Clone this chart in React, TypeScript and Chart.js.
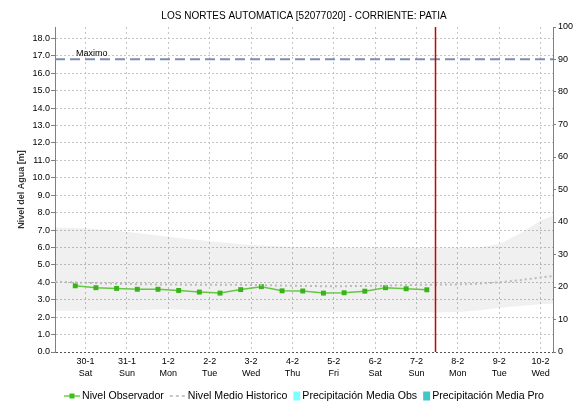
import React, { useEffect, useRef } from "react";
import { Chart, registerables } from "chart.js";

Chart.register(...registerables);

// ---- Data ----
const chartTitle = "LOS NORTES AUTOMATICA [52077020] - CORRIENTE: PATIA";
const dayTicks = [0, 1, 2, 3, 4, 5, 6, 7, 8, 9, 10, 11];
const tickDates = ["30-1", "31-1", "1-2", "2-2", "3-2", "4-2", "5-2", "6-2", "7-2", "8-2", "9-2", "10-2"];
const tickWeekdays = ["Sat", "Sun", "Mon", "Tue", "Wed", "Thu", "Fri", "Sat", "Sun", "Mon", "Tue", "Wed"];
const xMin = -0.74;
const xMax = 11.3;
const levelMax = 18.65;
const precipMax = 100;

const obsDays = [-0.25, 0.25, 0.75, 1.25, 1.75, 2.25, 2.75, 3.25, 3.75, 4.25, 4.75, 5.25, 5.75, 6.25, 6.75, 7.25, 7.75, 8.25];
const obsLevel = [3.8, 3.69, 3.65, 3.6, 3.6, 3.53, 3.44, 3.38, 3.58, 3.75, 3.51, 3.5, 3.38, 3.4, 3.49, 3.69, 3.63, 3.57];

const histDays = [-0.74, 0, 1, 2, 3, 4, 5, 6, 7, 8, 9, 9.5, 10, 10.5, 11, 11.3];
const histLevel = [4.03, 3.97, 3.9, 3.87, 3.86, 3.85, 3.8, 3.77, 3.8, 3.85, 3.88, 3.92, 4.0, 4.12, 4.28, 4.36];

const bandDays = [-0.74, 0, 1, 2, 3, 4, 5, 6, 7, 8, 8.5, 9, 9.5, 10, 10.5, 11, 11.3];
const bandUpper = [7.15, 7.1, 6.9, 6.62, 6.35, 6.14, 6.02, 5.98, 5.98, 5.98, 5.98, 5.98, 6.0, 6.2, 6.8, 7.55, 7.82];
const bandLower = [2.37, 2.36, 2.38, 2.45, 2.38, 2.33, 2.31, 2.31, 2.31, 2.3, 2.27, 2.3, 2.38, 2.54, 2.64, 2.74, 2.77];

const maxLevel = 16.8;
const maxLabel = "Maximo";
const nowDay = 8.45;

const FONT = "'Liberation Sans', Arial, sans-serif";

const legendPlugin = {
  id: "customLegend",
  afterDraw(chart: any) {
    const ctx = chart.ctx;
    const items = chart.data.datasets
      .filter((d: any) => d.legendKind)
      .sort((a: any, b: any) => a.legendOrder - b.legendOrder);
    ctx.save();
    ctx.font = "10.6px " + FONT;
    ctx.textBaseline = "middle";
    const widths = items.map((it: any) => {
      const sym = it.legendKind === "box" ? 7 + 2 : 16 + 2;
      return sym + ctx.measureText(it.label).width;
    });
    const gap = 6;
    const total = widths.reduce((a: number, b: number) => a + b, 0) + gap * (items.length - 1);
    const ca = chart.chartArea;
    let x = (ca.left + ca.right) / 2 - total / 2;
    const y = 396;
    items.forEach((it: any, i: number) => {
      if (it.legendKind === "box") {
        ctx.fillStyle = it.backgroundColor;
        ctx.fillRect(x, y - 4.5, 7, 9);
        ctx.fillStyle = "#000";
        ctx.fillText(it.label, x + 9, y);
      } else {
        ctx.strokeStyle = it.borderColor;
        ctx.lineWidth = it.legendKind === "dash" ? 2 : 1.5;
        ctx.setLineDash(it.legendKind === "dash" ? [3, 3] : []);
        ctx.beginPath();
        ctx.moveTo(x, y);
        ctx.lineTo(x + 16, y);
        ctx.stroke();
        ctx.setLineDash([]);
        if (it.legendKind === "marker") {
          ctx.fillStyle = it.pointBackgroundColor;
          ctx.fillRect(x + 8 - 2.5, y - 2.5, 5, 5);
        }
        ctx.fillStyle = "#000";
        ctx.fillText(it.label, x + 18, y);
      }
      x += widths[i] + gap;
    });
    ctx.restore();
  },
};

const overlayPlugin = {
  id: "overlay",
  afterDatasetsDraw(chart: any) {
    const ctx = chart.ctx;
    const ca = chart.chartArea;
    const xs = chart.scales.x;
    const ys = chart.scales.y;
    ctx.save();
    ctx.font = "9px " + FONT;
    ctx.fillStyle = "#000";
    ctx.textBaseline = "alphabetic";
    ctx.fillText(maxLabel, ca.left + 21, ys.getPixelForValue(maxLevel) - 3);
    const nx = Math.round(xs.getPixelForValue(nowDay)) + 0.5;
    ctx.strokeStyle = "#cc0000";
    ctx.lineWidth = 1.5;
    ctx.beginPath();
    ctx.moveTo(nx, ca.top);
    ctx.lineTo(nx, ca.bottom);
    ctx.stroke();
    ctx.restore();
  },
};

export default function App() {
  const ref = useRef<HTMLCanvasElement>(null);
  useEffect(() => {
    if (!ref.current) return;
    const toPts = (xs: number[], ys: number[]) => xs.map((x, i) => ({ x, y: ys[i] }));
    const chart = new Chart(ref.current, {
      type: "line",
      data: {
        datasets: [
          {
            label: "band-lower",
            data: toPts(bandDays, bandLower),
            borderWidth: 0,
            pointRadius: 0,
            fill: false,
            borderColor: "rgba(0,0,0,0)",
          },
          {
            label: "band-upper",
            data: toPts(bandDays, bandUpper),
            borderWidth: 0,
            pointRadius: 0,
            fill: "-1",
            borderColor: "rgba(0,0,0,0)",
            backgroundColor: "rgba(0,0,0,0.06)",
          },
          {
            label: "Nivel Medio Historico",
            legendKind: "dash",
            legendOrder: 2,
            data: toPts(histDays, histLevel),
            borderColor: "#c6c6c6",
            borderWidth: 2,
            borderDash: [2, 3],
            pointRadius: 0,
            fill: false,
          },
          {
            label: "Maximo",
            data: [
              { x: xMin, y: maxLevel },
              { x: xMax, y: maxLevel },
            ],
            borderColor: "#7e8cb0",
            borderWidth: 2,
            borderDash: [10, 5],
            pointRadius: 0,
            fill: false,
          },
          {
            label: "Nivel Observador",
            legendKind: "marker",
            legendOrder: 1,
            data: toPts(obsDays, obsLevel),
            borderColor: "#6ad447",
            borderWidth: 1.5,
            pointStyle: "rect",
            pointRadius: 3.5,
            pointBackgroundColor: "#3cc01c",
            pointBorderColor: "#3cc01c",
            pointBorderWidth: 0,
            fill: false,
          },
          {
            type: "bar",
            label: "Precipitación Media Obs",
            legendKind: "box",
            legendOrder: 3,
            data: [],
            backgroundColor: "#80ffff",
            yAxisID: "y1",
          },
          {
            type: "bar",
            label: "Precipitación Media Pro",
            legendKind: "box",
            legendOrder: 4,
            data: [],
            backgroundColor: "#40c8c8",
            yAxisID: "y1",
          },
        ] as any,
      },
      options: {
        animation: false,
        responsive: false,
        layout: { padding: { left: 0, right: 0, top: 0, bottom: 19 } },
        plugins: {
          legend: { display: false },
          tooltip: { enabled: false },
          title: {
            display: true,
            text: chartTitle,
            fullSize: false,
            color: "#000",
            font: { family: FONT, size: 10, weight: "normal" as any, lineHeight: 1.2 },
            padding: { top: 10, bottom: 5 },
          },
        },
        scales: {
          x: {
            type: "linear",
            min: xMin,
            max: xMax,
            offset: false,
            afterBuildTicks: (s: any) => {
              s.ticks = dayTicks.map((v) => ({ value: v }));
            },
            afterFit: (s: any) => {
              s.height = 30;
            },
            ticks: {
              autoSkip: false,
              maxRotation: 0,
              padding: 3,
              color: "#000",
              font: { family: FONT, size: 9, lineHeight: 1.35 },
              callback: (v: any) => {
                const i = dayTicks.indexOf(Number(v));
                return i >= 0 ? [tickDates[i], tickWeekdays[i]] : "";
              },
            },
            grid: { color: "#c4c4c4", lineWidth: 1, drawTicks: false, offset: false },
            border: { display: false, dash: [2, 3] },
          },
          y: {
            type: "linear",
            position: "left",
            min: 0,
            max: levelMax,
            afterBuildTicks: (s: any) => {
              const t = [];
              for (let v = 0; v <= 18; v++) t.push({ value: v });
              s.ticks = t;
            },
            afterFit: (s: any) => {
              s.width = 55;
            },
            ticks: {
              padding: 1,
              color: "#000",
              font: { family: FONT, size: 9 },
              callback: (v: any) => Number(v).toFixed(1),
            },
            grid: {
              color: (c: any) => (c.tick && c.tick.value === 0 ? "#555" : "#c4c4c4"),
              lineWidth: 1,
              drawTicks: true,
              tickLength: 4,
              tickColor: "#808080",
              tickBorderDash: [],
            },
            border: { display: true, color: "#808080", width: 1, dash: [2, 2] },
            title: {
              display: true,
              text: "Nivel del Agua [m]",
              color: "#333",
              font: { family: FONT, size: 9, weight: "bold" as any, lineHeight: 1.2 },
              padding: { top: 16, bottom: 0 },
            },
          },
          y1: {
            type: "linear",
            position: "right",
            min: 0,
            max: precipMax,
            afterBuildTicks: (s: any) => {
              const t = [];
              for (let v = 0; v <= 100; v += 10) t.push({ value: v });
              s.ticks = t;
            },
            afterFit: (s: any) => {
              s.width = 29;
            },
            ticks: {
              padding: 2,
              color: "#000",
              font: { family: FONT, size: 9 },
              callback: (v: any) => String(v),
            },
            grid: {
              drawOnChartArea: false,
              drawTicks: true,
              tickLength: 3,
              tickColor: "#808080",
            },
            border: { display: true, color: "#808080", width: 1 },
          },
        },
      } as any,
      plugins: [overlayPlugin, legendPlugin],
    });
    return () => chart.destroy();
  }, []);
  return (
    <div style={{ position: "fixed", left: 0, top: 0, width: 582, height: 401, background: "#fff" }}>
      <canvas ref={ref} width={582} height={401} style={{ display: "block", width: 582, height: 401 }} />
    </div>
  );
}
